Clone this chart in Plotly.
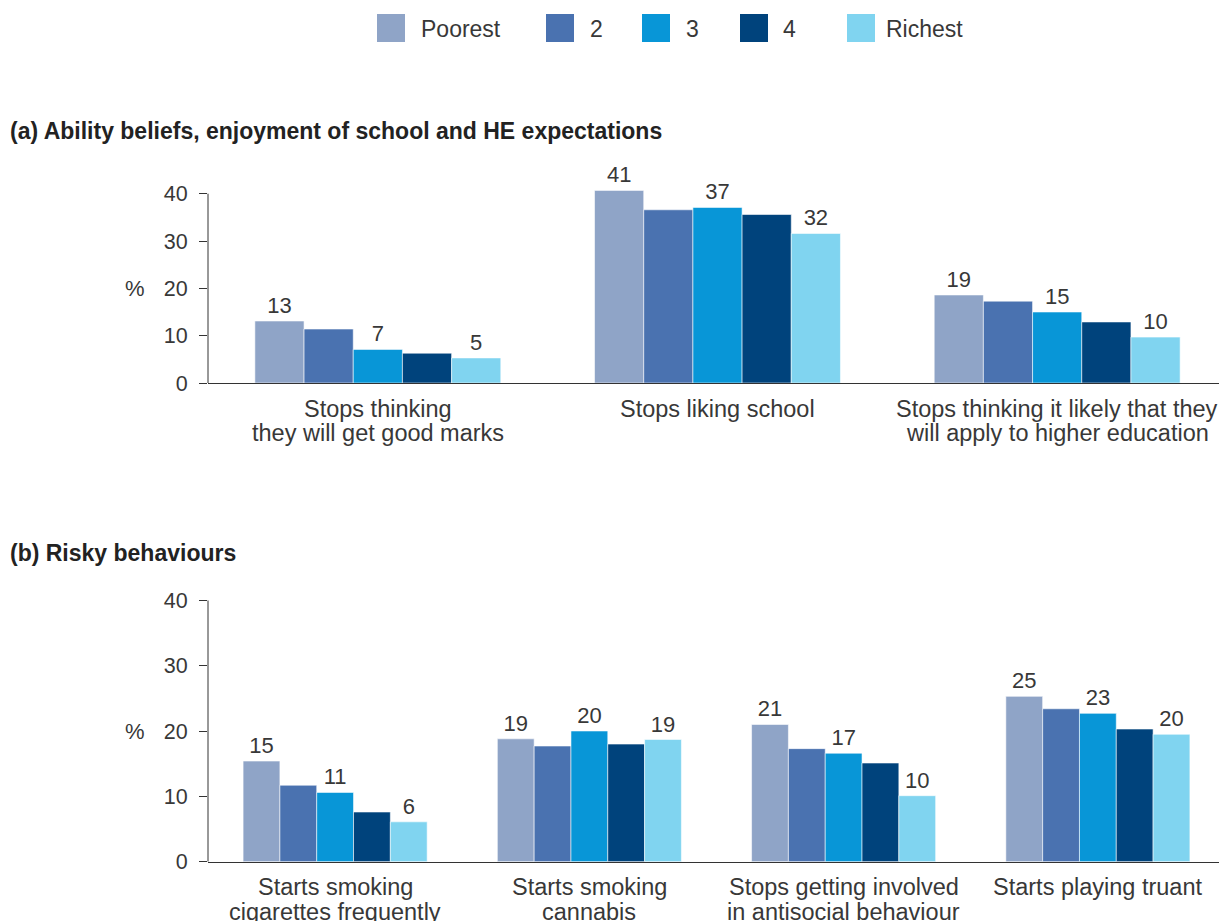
import math
import plotly.graph_objects as go

series = ["Poorest", "2", "3", "4", "Richest"]
colors = ["#8fa4c7", "#4a72b0", "#0896d7", "#00437c", "#80d4f0"]
labelled = ["Poorest", "3", "Richest"]

cats_a = ["Stops thinking<br>they will get good marks",
          "Stops liking school",
          "Stops thinking it likely that they<br>will apply to higher education"]
vals_a = {
    "Poorest": [13.1, 40.7, 18.6],
    "2":       [11.4, 36.6, 17.3],
    "3":       [7.1, 37.1, 15.0],
    "4":       [6.3, 35.6, 12.9],
    "Richest": [5.3, 31.6, 9.7],
}

cats_b = ["Starts smoking<br>cigarettes frequently",
          "Starts smoking<br>cannabis",
          "Stops getting involved<br>in antisocial behaviour",
          "Starts playing truant"]
vals_b = {
    "Poorest": [15.4, 18.8, 21.0, 25.3],
    "2":       [11.7, 17.7, 17.3, 23.4],
    "3":       [10.6, 20.0, 16.6, 22.7],
    "4":       [7.6, 18.0, 15.1, 20.3],
    "Richest": [6.1, 18.7, 10.1, 19.5],
}

y_ticks = [0, 10, 20, 30, 40]
title_a = "(a) Ability beliefs, enjoyment of school and HE expectations"
title_b = "(b) Risky behaviours"

# page body has an 8px margin: the figure starts at (8, 8) in the window
OFF = 8
FW, FH = 1227 - OFF, 921 - OFF
FONT = "Liberation Sans, Arial, sans-serif"
TXT = "#383838"


def px_x(p):
    return min(max((p - OFF) / FW, 0.0), 1.0)


def px_y(p):
    return min(max(1 - (p - OFF) / FH, 0.0), 1.0)


def half_up(x):
    return str(int(math.floor(x + 0.5)))


fig = go.Figure()
for name, col in zip(series, colors):
    for cats, vals, xa, ya in [(cats_a, vals_a, "x", "y"), (cats_b, vals_b, "x2", "y2")]:
        v = vals[name]
        txt = [half_up(x) for x in v] if name in labelled else None
        fig.add_trace(go.Bar(
            x=cats, y=v, name=name, xaxis=xa, yaxis=ya,
            marker=dict(color=col, line=dict(color="rgba(255,255,255,0.7)", width=0.8)),
            text=txt, textposition="outside", cliponaxis=False,
            textfont=dict(family=FONT, size=22, color=TXT),
            showlegend=False, hoverinfo="y",
        ))

# pixel geometry of the two panels (reference pixels)
unit_a = (383 - 193.7) / 40
yax = dict(tickvals=y_ticks, ticks="outside", ticklen=8,
           tickcolor="#333", tickwidth=1, showline=False,
           showgrid=False, zeroline=False, automargin=False,
           tickfont=dict(family=FONT, size=21.5, color=TXT), ticklabelstandoff=7)
xax = dict(type="category", showline=True, linecolor="#333", linewidth=1.3,
           ticks="", showgrid=False, zeroline=False, automargin=False,
           showticklabels=False)

fig.update_layout(
    template="none",
    width=FW, height=FH,
    margin=dict(l=0, r=0, t=0, b=0, pad=0),
    paper_bgcolor="white", plot_bgcolor="white",
    barmode="group", bargap=0.276, bargroupgap=0,
    font=dict(family=FONT, color=TXT),
    xaxis=dict(xax, domain=[px_x(208), 1.0], anchor="y"),
    yaxis=dict(yax, range=[0, 42], domain=[px_y(383), px_y(383 - 42 * unit_a)], anchor="x"),
    xaxis2=dict(xax, domain=[px_x(208), px_x(1225)], anchor="y2"),
    yaxis2=dict(yax, range=[0, 40], domain=[px_y(861.7), px_y(600.3)], anchor="x2"),
    showlegend=False,
)

# y-axis lines from 0 to 40
for xr, yr in [("x domain", "y"), ("x2 domain", "y2")]:
    fig.add_shape(type="line", xref=xr, yref=yr, x0=0, x1=0, y0=0, y1=40,
                  line=dict(color="#333", width=1))

# category labels (one text per line, tight line spacing as in the reference)
for cats, xr, yr in [(cats_a, "x", "y domain"), (cats_b, "x2", "y2 domain")]:
    for c in cats:
        for i, line in enumerate(c.split("<br>")):
            fig.add_annotation(text=line, xref=xr, yref=yr, x=c, y=0,
                               xanchor="center", yanchor="middle",
                               yshift=-(25.5 + 24.5 * i), showarrow=False,
                               font=dict(family=FONT, size=23.5, color=TXT))

# Panel titles and "%" labels
for t, yp in [(title_a, 131), (title_b, 553)]:
    fig.add_annotation(text="<b>" + t + "</b>", xref="paper", yref="paper",
                       x=px_x(8), y=px_y(yp), xanchor="left", yanchor="middle",
                       showarrow=False, font=dict(family=FONT, size=23, color="#222"))
for ya in ["y", "y2"]:
    fig.add_annotation(text="%", xref="paper", yref=ya, x=px_x(135), y=20,
                       xanchor="center", yanchor="middle", showarrow=False,
                       font=dict(family=FONT, size=22, color=TXT))

# Legend (swatches + labels)
sw_left = [377, 546, 642, 740, 847]
txt_left = [419, 588, 684, 781, 884]
for name, col, sx, tx in zip(series, colors, sw_left, txt_left):
    fig.add_shape(type="rect", xref="paper", yref="paper",
                  x0=px_x(sx), x1=px_x(sx + 28), y0=px_y(42), y1=px_y(14),
                  fillcolor=col, line=dict(width=0))
    fig.add_annotation(text=name, xref="paper", yref="paper",
                       x=px_x(tx), y=px_y(29), xanchor="left", yanchor="middle",
                       showarrow=False, font=dict(family=FONT, size=23, color=TXT))

fig.write_html("out.html")
